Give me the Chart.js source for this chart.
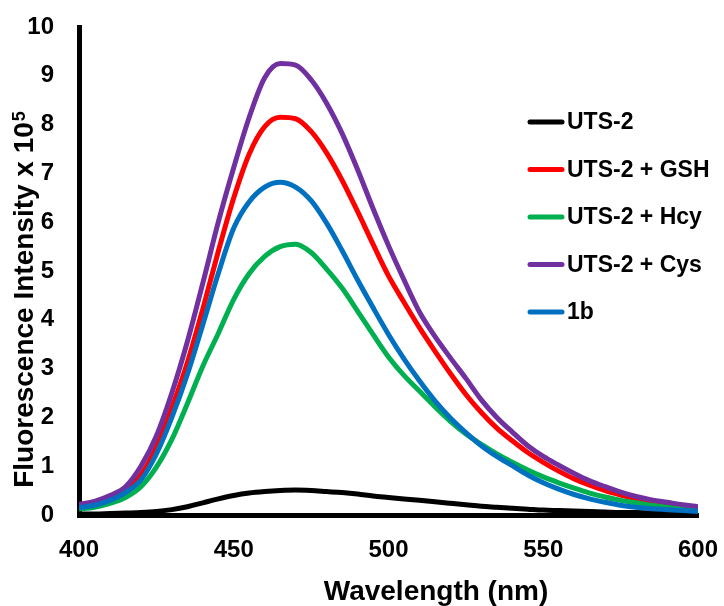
<!DOCTYPE html>
<html>
<head>
<meta charset="utf-8">
<script src="https://cdn.jsdelivr.net/npm/chart.js@4"></script>
<style>
  html, body { margin: 0; padding: 0; background: #fff; }
  canvas { display: block; }
</style>
</head>
<body>
<canvas id="spectraChart" width="724" height="606"></canvas>
<script>
const wavelengths = [400, 405, 410, 415, 420, 425, 430, 435, 440, 445, 450, 455, 460, 465, 470, 475, 480, 485, 490, 495,
  500, 505, 510, 515, 520, 525, 530, 535, 540, 545, 550, 555, 560, 565, 570, 575, 580, 585, 590, 595, 600];
const seriesNames = ['UTS-2', 'UTS-2 + GSH', 'UTS-2 + Hcy', 'UTS-2 + Cys', '1b'];
const seriesColors = ['#000000', '#FF0000', '#00B050', '#7030A0', '#0070C0'];
const uts2 = [0.02, 0.02, 0.03, 0.04, 0.05, 0.07, 0.11, 0.17, 0.25, 0.33, 0.40, 0.45, 0.48, 0.50, 0.51, 0.50, 0.48, 0.46, 0.43, 0.39,
  0.36, 0.33, 0.30, 0.27, 0.24, 0.21, 0.18, 0.16, 0.14, 0.12, 0.10, 0.09, 0.08, 0.07, 0.06, 0.05, 0.05, 0.04, 0.04, 0.03, 0.03];
const uts2Gsh = [0.20, 0.25, 0.36, 0.52, 0.82, 1.40, 2.20, 3.12, 4.22, 5.40, 6.50, 7.40, 7.96, 8.15, 8.12, 7.86, 7.42, 6.86, 6.22, 5.55,
  4.90, 4.36, 3.84, 3.36, 2.90, 2.47, 2.10, 1.78, 1.52, 1.28, 1.08, 0.90, 0.74, 0.61, 0.50, 0.41, 0.33, 0.27, 0.22, 0.18, 0.14];
const uts2Hcy = [0.12, 0.16, 0.24, 0.36, 0.58, 0.98, 1.55, 2.28, 3.05, 3.72, 4.42, 4.95, 5.30, 5.50, 5.55, 5.38, 5.04, 4.65, 4.18, 3.70,
  3.24, 2.86, 2.54, 2.22, 1.92, 1.66, 1.45, 1.25, 1.08, 0.92, 0.78, 0.66, 0.55, 0.45, 0.37, 0.30, 0.25, 0.20, 0.16, 0.13, 0.10];
const uts2Cys = [0.22, 0.28, 0.40, 0.58, 1.00, 1.62, 2.50, 3.55, 4.75, 6.00, 7.12, 8.15, 8.96, 9.25, 9.22, 8.92, 8.44, 7.82, 7.08, 6.28,
  5.52, 4.82, 4.16, 3.66, 3.22, 2.80, 2.36, 2.00, 1.70, 1.42, 1.20, 1.02, 0.85, 0.70, 0.58, 0.47, 0.38, 0.31, 0.26, 0.21, 0.17];
const compound1b = [0.15, 0.20, 0.30, 0.46, 0.72, 1.25, 2.00, 2.88, 3.90, 4.95, 5.88, 6.42, 6.72, 6.82, 6.72, 6.44, 5.98, 5.42, 4.82, 4.25,
  3.70, 3.20, 2.75, 2.34, 1.99, 1.69, 1.42, 1.20, 1.01, 0.82, 0.66, 0.53, 0.42, 0.33, 0.26, 0.20, 0.16, 0.13, 0.11, 0.09, 0.07];
const xTicks = [400, 450, 500, 550, 600];
const yTicks = [0, 1, 2, 3, 4, 5, 6, 7, 8, 9, 10];
const xTitle = 'Wavelength (nm)';
const yTitle = 'Fluorescence Intensity x 10';
const yTitleSup = '5';

const fontFamily = '"Liberation Sans", Arial, sans-serif';
const allSeries = [uts2, uts2Gsh, uts2Hcy, uts2Cys, compound1b];

// легенда справа внутри области графика
const insideLegend = {
  id: 'insideLegend',
  afterDraw(chart) {
    const { ctx } = chart;
    ctx.save();
    ctx.font = `bold 23px ${fontFamily}`;
    ctx.textAlign = 'left';
    ctx.textBaseline = 'middle';
    ctx.lineCap = 'round';
    seriesNames.forEach((name, i) => {
      const y = 122 + i * 47.5;
      ctx.strokeStyle = seriesColors[i];
      ctx.lineWidth = 5;
      ctx.beginPath();
      ctx.moveTo(530, y);
      ctx.lineTo(562, y);
      ctx.stroke();
      ctx.fillStyle = '#000';
      ctx.fillText(name, 567, y + 1);
    });
    ctx.restore();
  },
};

// подписи осей (у оси Y верхний индекс)
const axisTitles = {
  id: 'axisTitles',
  afterDraw(chart) {
    const { ctx } = chart;
    ctx.save();
    ctx.fillStyle = '#000';
    ctx.textBaseline = 'alphabetic';
    ctx.font = `bold 28px ${fontFamily}`;
    ctx.textAlign = 'center';
    ctx.fillText(xTitle, 436, 600);

    ctx.textAlign = 'left';
    const mainWidth = ctx.measureText(yTitle).width;
    ctx.font = `bold 18px ${fontFamily}`;
    const supWidth = ctx.measureText(yTitleSup).width;
    const total = mainWidth + supWidth + 1;
    ctx.translate(33, 299.5);
    ctx.rotate(-Math.PI / 2);
    ctx.font = `bold 28px ${fontFamily}`;
    ctx.fillText(yTitle, -total / 2, 0);
    ctx.font = `bold 18px ${fontFamily}`;
    ctx.fillText(yTitleSup, -total / 2 + mainWidth + 1, -8);
    ctx.restore();
  },
};

const tickFont = { family: fontFamily, size: 24, weight: 'bold' };

const noScalePadding = (scale) => {
  scale.paddingTop = 0;
  scale.paddingBottom = 0;
  scale.paddingLeft = 0;
  scale.paddingRight = 0;
};

new Chart(document.getElementById('spectraChart').getContext('2d'), {
  type: 'line',
  data: {
    datasets: allSeries.map((values, i) => ({
      label: seriesNames[i],
      data: wavelengths.map((w, j) => ({ x: w, y: values[j] })),
      borderColor: seriesColors[i],
      backgroundColor: seriesColors[i],
      order: seriesNames.length - i,
    })),
  },
  options: {
    responsive: false,
    animation: false,
    layout: { padding: { top: 27, right: 26, left: 0, bottom: 0 } },
    elements: {
      point: { radius: 0 },
      line: { borderWidth: 5, cubicInterpolationMode: 'monotone' },
    },
    plugins: {
      legend: { display: false },
      tooltip: { enabled: false },
    },
    scales: {
      x: {
        type: 'linear',
        min: 400,
        max: 600,
        afterBuildTicks: (scale) => { scale.ticks = xTicks.map((v) => ({ value: v })); },
        afterFit: (scale) => { scale.height = 91; noScalePadding(scale); },
        grid: { display: false, drawTicks: false },
        border: { display: true, color: '#000', width: 5 },
        ticks: { font: tickFont, color: '#000', padding: 21, maxRotation: 0 },
      },
      y: {
        min: 0,
        max: 10,
        afterBuildTicks: (scale) => { scale.ticks = yTicks.map((v) => ({ value: v })); },
        afterFit: (scale) => { scale.width = 79; noScalePadding(scale); },
        grid: { display: false, drawTicks: false },
        border: { display: true, color: '#000', width: 5 },
        ticks: { font: tickFont, color: '#000', padding: 25 },
      },
    },
  },
  plugins: [insideLegend, axisTitles],
});
</script>
</body>
</html>
